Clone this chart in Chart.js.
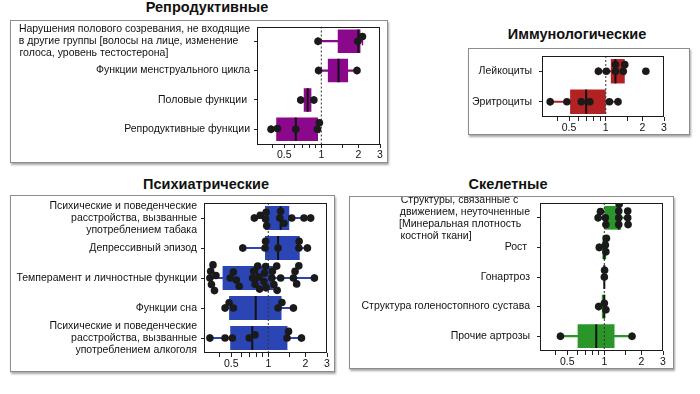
<!DOCTYPE html>
<html>
<head>
<meta charset="utf-8">
<script src="https://cdn.jsdelivr.net/npm/chart.js@4.4.1/dist/chart.umd.min.js"></script>
<style>
  html, body { margin: 0; padding: 0; background: #fff; }
  body { width: 700px; height: 394px; position: relative; overflow: hidden;
         font-family: "Liberation Sans", Arial, sans-serif; }
  .title { position: absolute; font-weight: bold; font-size: 14.5px; line-height: 1;
           white-space: nowrap; transform: translate(-50%, -50%); color: #111; }
  .panel { position: absolute; border: 1px solid #8c8c8c; background: #fff;
           box-shadow: 1px 2px 2px rgba(0, 0, 0, 0.35); }
  .panel canvas { position: absolute; left: 0; top: 0; }
</style>
</head>
<body>

<div class="title" style="left:207px; top:7px;">Репродуктивные</div>
<div class="title" style="left:577px; top:34px;">Иммунологические</div>
<div class="title" style="left:206px; top:184px;">Психиатрические</div>
<div class="title" style="left:508px; top:184px;">Скелетные</div>

<div class="panel" id="box-repro"><canvas id="chart-repro"></canvas></div>
<div class="panel" id="box-immuno"><canvas id="chart-immuno"></canvas></div>
<div class="panel" id="box-psych"><canvas id="chart-psych"></canvas></div>
<div class="panel" id="box-skel"><canvas id="chart-skel"></canvas></div>

<script>
// ====== Data ======

// shared x axis (log scale)
const xMin = 1 / 3;
const xMax = 3;
const xTickValues = [0.4, 0.5, 0.6, 0.7, 0.8, 0.9, 1, 1.5, 2, 3];
const xLabeledTicks = [0.5, 1, 2, 3];

// Репродуктивные
const reproLabels = [
  ['Нарушения полового созревания, не входящие', 'в другие группы [волосы на лице, изменение', 'голоса, уровень тестостерона]'],
  'Функции менструального цикла',
  'Половые функции ',
  'Репродуктивные функции'
];
const reproQ1 = [1.36, 1.13, 0.72, 0.43];
const reproMedian = [2.0, 1.38, 0.775, 0.62];
const reproQ3 = [2.08, 1.65, 0.83, 0.94];
const reproLow = [0.94, 0.95, 0.68, 0.39];
const reproHigh = [2.16, 1.95, 0.87, 0.965];
const reproPoints = [
  [0.94, 1.98, 2.16],
  [0.95, 1.95],
  [0.68, 0.87],
  [0.39, 0.44, 0.62, 0.93, 0.965]
];

// Иммунологические
const immunoLabels = ['Лейкоциты', 'Эритроциты'];
const immunoQ1 = [1.10, 0.51];
const immunoMedian = [1.2, 0.69];
const immunoQ3 = [1.43, 1.0];
const immunoLow = [0.87, 0.35];
const immunoHigh = [1.43, 1.26];
const immunoPoints = [
  [0.87, 1.01, 1.2, 1.2, 1.39, 1.43, 2.13],
  [0.35, 0.48, 0.63, 0.74, 1.07, 1.26]
];

// Психиатрические
const psychLabels = [
  ['Психические и поведенческие', 'расстройства, вызванные', 'употреблением табака'],
  'Депрессивный эпизод',
  'Темперамент и личностные функции',
  'Функции сна',
  ['Психические и поведенческие', 'расстройства, вызванные', 'употреблением алкоголя']
];
const psychQ1 = [0.94, 0.94, 0.425, 0.48, 0.49];
const psychMedian = [1.26, 1.2, 0.81, 0.79, 0.74];
const psychQ3 = [1.48, 1.8, 1.11, 1.28, 1.43];
const psychLow = [0.77, 0.62, 0.335, 0.445, 0.335];
const psychHigh = [2.21, 2.08, 2.37, 1.6, 1.86];
const psychPoints = [
  [0.77, 0.86, 0.95, 0.96, 0.97, 1.24, 1.26, 1.34, 1.55, 1.95, 2.21],
  [0.62, 0.94, 0.95, 1.2, 1.77, 1.78, 2.08],
  [0.335, 0.34, 0.345, 0.355, 0.365, 0.375, 0.49, 0.52, 0.55, 0.58,
   0.745, 0.76, 0.78, 0.82, 0.84, 0.85, 0.92, 0.93, 0.95, 0.96,
   1.07, 1.08, 1.11, 1.17, 1.18, 1.26, 1.6, 1.65, 1.7, 1.77, 2.37],
  [0.445, 0.48, 0.52, 1.2, 1.29, 1.6],
  [0.335, 0.445, 0.51, 0.70, 0.78, 1.42, 1.46, 1.86]
];

// Скелетные
const skelLabels = [
  ['Структуры, связанные с', 'движением, неуточненные', '[Минеральная плотность', 'костной ткани]'],
  'Рост ',
  'Гонартроз',
  'Структура голеностопного сустава',
  'Прочие артрозы'
];
const skelQ1 = [1.0, 0.965, 0.997, 0.955, 0.607];
const skelMedian = [1.31, 1.0, 1.0, 1.0, 0.86];
const skelQ3 = [1.37, 1.035, 1.003, 1.01, 1.21];
const skelLow = [0.89, 0.91, null, 0.9, 0.44];
const skelHigh = [1.55, 1.04, null, 1.03, 1.68];
const skelPoints = [
  [0.89, 0.93, 1.02, 1.03, 1.31, 1.31, 1.31, 1.32, 1.55, 1.55, 1.56],
  [0.91, 1.02, 1.03, 1.04],
  [1.0, 1.005],
  [0.9, 1.0, 1.03],
  [0.44, 1.68]
];

// ====== Setup ======
const FONT = '"Liberation Sans", Arial, sans-serif';
const LABEL_SIZE = 10.5;
Chart.defaults.font.family = FONT;
Chart.defaults.color = '#111';

// draws the black frame round the plot area
const plotFrame = {
  id: 'plotFrame',
  afterDraw(chart) {
    const { ctx, chartArea: a } = chart;
    ctx.save();
    ctx.strokeStyle = '#1a1a1a';
    ctx.lineWidth = 1;
    ctx.strokeRect(Math.round(a.left) + 0.5, Math.round(a.top) + 0.5,
                   Math.round(a.right - a.left) - 1, Math.round(a.bottom - a.top) - 1);
    ctx.restore();
  }
};

// multi-line label blocks whose lines are left aligned inside a right aligned block
function padBlock(lines) {
  const c = document.createElement('canvas').getContext('2d');
  c.font = LABEL_SIZE + 'px ' + FONT;
  const w = Math.max(...lines.map(l => c.measureText(l).width));
  return lines.map(l => {
    let s = l;
    while (c.measureText(s + '\u00a0').width <= w + 1.5) s += '\u00a0';
    return s;
  });
}

// beeswarm offsets (in row units) so the dots do not overlap
function swarm(vals, pxPerDecade, rowPx, d) {
  const pts = vals.map((v, k) => ({ k, x: Math.log10(v) * pxPerDecade }));
  pts.sort((a, b) => a.x - b.x);
  const placed = [];
  const off = new Array(vals.length).fill(0);
  pts.forEach(p => {
    const near = placed.filter(q => Math.abs(q.x - p.x) < d);
    const cands = [0];
    near.forEach(q => {
      const dy = Math.sqrt(d * d - (q.x - p.x) ** 2);
      cands.push(q.y + dy, q.y - dy);
    });
    cands.sort((a, b) => Math.abs(a) - Math.abs(b) || a - b);
    const y = cands.find(c => near.every(q => (q.x - p.x) ** 2 + (q.y - c) ** 2 >= d * d - 0.01)) || 0;
    p.y = y;
    placed.push(p);
    off[p.k] = y / rowPx;
  });
  return off;
}

function makePanel(cfg) {
  const { labels, q1, med, q3, lo, hi, points, color, box, plot, leftBlock, labelPad } = cfg;
  const n = labels.length;
  const rows = labels.map((_, i) => i);

  const boxEl = document.getElementById(cfg.boxId);
  boxEl.style.left = box.l + 'px';
  boxEl.style.top = box.t + 'px';
  boxEl.style.width = (box.w - 2) + 'px';
  boxEl.style.height = (box.h - 2) + 'px';

  const cw = box.w - 2, chh = box.h - 2;
  const cl = box.l + 1, ct = box.t + 1;
  const canvas = document.getElementById(cfg.canvasId);
  canvas.width = cw;
  canvas.height = chh;
  canvas.style.width = cw + 'px';
  canvas.style.height = chh + 'px';

  const yWidth = plot.l - cl;
  const xHeight = ct + chh - plot.b;
  const padTop = plot.t - ct;
  const padRight = cl + cw - plot.r;

  const tickLabels = labels.map(l => Array.isArray(l) && leftBlock ? padBlock(l) : l);

  const pxPerDecade = (plot.r - plot.l) / Math.log10(xMax / xMin);
  const rowPx = (plot.b - plot.t) / n;

  const dots = [];
  points.forEach((vals, i) => {
    const off = swarm(vals, pxPerDecade, rowPx, 6.8);
    vals.forEach((v, k) => dots.push({ x: v, y: i + off[k] }));
  });

  const caps = [];
  rows.forEach(i => {
    if (lo[i] != null) caps.push({ x: lo[i], y: i }, { x: hi[i], y: i });
  });

  const halfBox = ctx => {
    const s = ctx.chart.scales.y;
    return Math.abs(s.getPixelForValue(1) - s.getPixelForValue(0)) * 0.4;
  };

  return new Chart(canvas.getContext('2d'), {
    type: 'scatter',
    data: {
      datasets: [
        {
          type: 'bar',
          indexAxis: 'y',
          data: rows.map(i => ({ y: i, x: lo[i] == null ? null : [lo[i], hi[i]] })),
          backgroundColor: color,
          barThickness: 1.5,
          grouped: false,
          xAxisID: 'x', yAxisID: 'y',
          order: 6
        },
        {
          type: 'bar',
          indexAxis: 'y',
          data: rows.map(i => ({ y: i, x: [q1[i], q3[i]] })),
          backgroundColor: color,
          borderWidth: 0,
          barPercentage: 0.8,
          categoryPercentage: 1,
          grouped: false,
          xAxisID: 'x', yAxisID: 'y',
          order: 5
        },
        {
          data: caps,
          pointStyle: 'line',
          pointRotation: 90,
          pointRadius: 4,
          pointBorderColor: color,
          pointBorderWidth: 1.5,
          order: 4
        },
        {
          data: [{ x: 1, y: -0.5 }, { x: 1, y: n - 0.5 }],
          showLine: true,
          borderColor: '#333',
          borderWidth: 1,
          borderDash: [2, 2],
          pointRadius: 0,
          order: 3
        },
        {
          data: rows.map(i => ({ x: med[i], y: i })),
          pointStyle: 'line',
          pointRotation: 90,
          pointRadius: halfBox,
          pointBorderColor: '#111',
          pointBorderWidth: 2,
          order: 2
        },
        {
          data: dots,
          pointRadius: 3.8,
          pointBackgroundColor: '#1a1a1a',
          pointBorderColor: '#1a1a1a',
          pointBorderWidth: 0,
          clip: 0,
          order: 1
        }
      ]
    },
    options: {
      responsive: false,
      animation: false,
      layout: { padding: { top: padTop, right: padRight, left: 0, bottom: 0 } },
      plugins: { legend: { display: false }, tooltip: { enabled: false } },
      scales: {
        x: {
          type: 'logarithmic',
          min: xMin,
          max: xMax,
          offset: false,
          afterBuildTicks: s => { s.ticks = xTickValues.map(v => ({ value: v })); },
          afterFit: s => { s.height = xHeight; s.paddingLeft = 0; s.paddingRight = 0; },
          ticks: {
            autoSkip: false,
            maxRotation: 0,
            padding: 1,
            color: '#111',
            font: { size: LABEL_SIZE },
            callback: v => xLabeledTicks.includes(v) ? String(v) : ''
          },
          grid: { drawOnChartArea: false, offset: false, tickLength: 4, color: '#222' },
          border: { display: false }
        },
        y: {
          type: 'linear',
          reverse: true,
          offset: false,
          min: -0.5,
          max: n - 0.5,
          afterBuildTicks: s => { s.ticks = rows.map(i => ({ value: i })); },
          afterFit: s => { s.width = yWidth; s.paddingTop = 0; s.paddingBottom = 0; },
          ticks: {
            autoSkip: false,
            padding: labelPad,
            color: '#111',
            font: { size: LABEL_SIZE, lineHeight: 1.15 },
            callback: v => tickLabels[v]
          },
          grid: { drawOnChartArea: false, offset: false, tickLength: 3, color: '#222' },
          border: { display: false }
        }
      }
    },
    plugins: [plotFrame]
  });
}

makePanel({
  boxId: 'box-repro', canvasId: 'chart-repro', color: '#8b078b', leftBlock: true, labelPad: 4,
  labels: reproLabels, q1: reproQ1, med: reproMedian, q3: reproQ3,
  lo: reproLow, hi: reproHigh, points: reproPoints,
  box: { l: 10, t: 20, w: 378, h: 143 }, plot: { l: 257, t: 26, r: 380, b: 144 }
});

makePanel({
  boxId: 'box-immuno', canvasId: 'chart-immuno', color: '#b22222', leftBlock: false, labelPad: 7,
  labels: immunoLabels, q1: immunoQ1, med: immunoMedian, q3: immunoQ3,
  lo: immunoLow, hi: immunoHigh, points: immunoPoints,
  box: { l: 468, t: 48, w: 222, h: 87 }, plot: { l: 542, t: 56, r: 664, b: 117 }
});

makePanel({
  boxId: 'box-psych', canvasId: 'chart-psych', color: '#2b45b5', leftBlock: false, labelPad: 4,
  labels: psychLabels, q1: psychQ1, med: psychMedian, q3: psychQ3,
  lo: psychLow, hi: psychHigh, points: psychPoints,
  box: { l: 10, t: 195, w: 325, h: 177 }, plot: { l: 204, t: 203, r: 327, b: 353 }
});

makePanel({
  boxId: 'box-skel', canvasId: 'chart-skel', color: '#2a962a', leftBlock: true, labelPad: 7,
  labels: skelLabels, q1: skelQ1, med: skelMedian, q3: skelQ3,
  lo: skelLow, hi: skelHigh, points: skelPoints,
  box: { l: 349, t: 196, w: 325, h: 173 }, plot: { l: 540, t: 203, r: 663, b: 351 }
});
</script>
</body>
</html>
